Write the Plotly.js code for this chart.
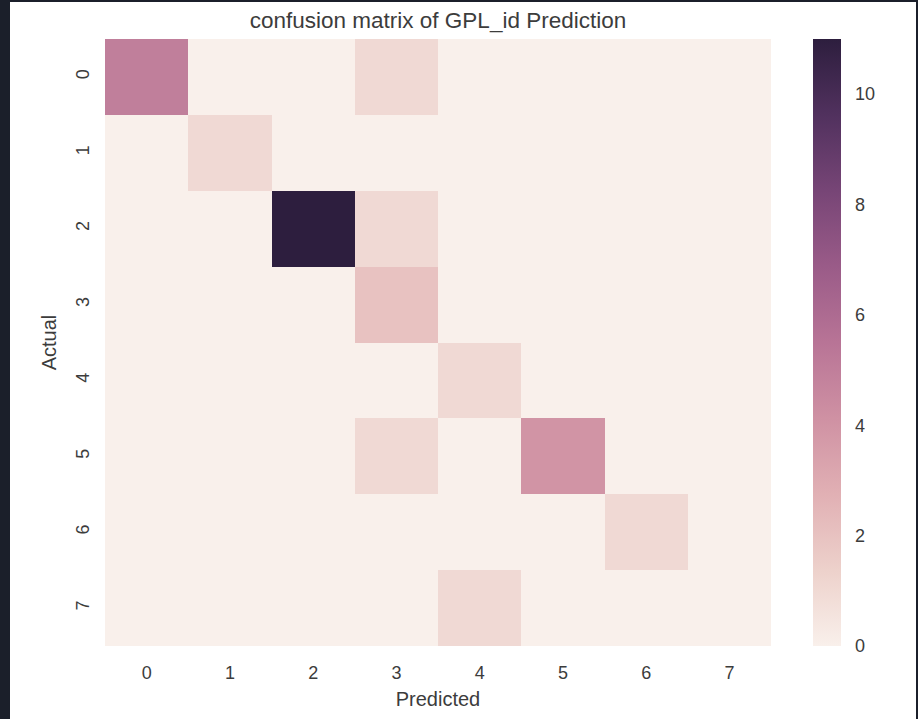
<!DOCTYPE html>
<html>
<head>
<meta charset="utf-8">
<script src="https://cdn.plot.ly/plotly-3.0.1.min.js"></script>
<style>
  html, body { margin: 0; padding: 0; background: #1b1f2a; width: 918px; height: 719px; overflow: hidden; }
  #chart { position: absolute; left: 10px; top: 2px; width: 906px; height: 717px; background: #ffffff; }
</style>
</head>
<body>
<div id="chart"></div>
<script>
// Predicted class labels (columns) and actual class labels (rows)
const predictedLabels = ['0', '1', '2', '3', '4', '5', '6', '7'];
const actualLabels = ['0', '1', '2', '3', '4', '5', '6', '7'];

// Confusion matrix counts, one array per actual row
const row0 = [5, 0, 0, 1, 0, 0, 0, 0];
const row1 = [0, 1, 0, 0, 0, 0, 0, 0];
const row2 = [0, 0, 11, 1, 0, 0, 0, 0];
const row3 = [0, 0, 0, 2, 0, 0, 0, 0];
const row4 = [0, 0, 0, 0, 1, 0, 0, 0];
const row5 = [0, 0, 0, 1, 0, 4, 0, 0];
const row6 = [0, 0, 0, 0, 0, 0, 1, 0];
const row7 = [0, 0, 0, 0, 1, 0, 0, 0];

const colorbarTicks = [0, 2, 4, 6, 8, 10];

// seaborn cubehelix_palette(light=.95, dark=.15) sampled
const cubehelix = [
  [0.000, '#f9f0eb'], [0.125, '#edd1cb'], [0.250, '#e1b0b4'],
  [0.375, '#cf91a3'], [0.500, '#b87496'], [0.625, '#9a5b88'],
  [0.750, '#774576'], [0.875, '#51315e'], [1.000, '#2d1e3e']
];

const z = [row0, row1, row2, row3, row4, row5, row6, row7];
const zmax = Math.max(...z.flat());

const textColor = '#3c3c3c';
const fontFam = '"Liberation Sans", Arial, sans-serif';

const trace = {
  type: 'heatmap',
  x: predictedLabels,
  y: actualLabels,
  z: z,
  zmin: 0,
  zmax: zmax,
  colorscale: cubehelix,
  xgap: 0, ygap: 0,
  hoverongaps: false,
  colorbar: {
    x: 1.0626, xanchor: 'left', xpad: 0,
    y: 0.5, yanchor: 'middle', ypad: 0,
    len: 1, lenmode: 'fraction',
    thickness: 28,
    outlinewidth: 0,
    tickvals: colorbarTicks,
    ticktext: colorbarTicks.map(String),
    ticks: 'outside', ticklen: 11, tickcolor: 'rgba(0,0,0,0)',
    tickfont: { family: fontFam, size: 18, color: textColor }
  }
};

const layout = {
  width: 906, height: 717,
  margin: { l: 95, r: 145, t: 37, b: 73, pad: 0 },
  paper_bgcolor: '#ffffff',
  plot_bgcolor: '#ffffff',
  font: { family: fontFam, color: textColor },
  title: {
    text: 'confusion matrix of GPL_id Prediction',
    font: { family: fontFam, size: 22.5, color: textColor },
    x: 0.5, xref: 'paper', xanchor: 'center',
    y: 1 - 18 / 717, yref: 'container', yanchor: 'middle'
  },
  xaxis: {
    type: 'category',
    showgrid: false, zeroline: false, showline: false,
    ticks: 'outside', ticklen: 10, tickcolor: 'rgba(0,0,0,0)',
    tickfont: { family: fontFam, size: 18, color: textColor },
    title: { text: 'Predicted', font: { family: fontFam, size: 20, color: textColor }, standoff: 10 },
    automargin: false
  },
  yaxis: {
    type: 'category',
    autorange: 'reversed',
    showgrid: false, zeroline: false, showline: false,
    ticks: 'outside', ticklen: 8, tickcolor: 'rgba(0,0,0,0)',
    tickangle: -90,
    tickfont: { family: fontFam, size: 18, color: textColor },
    title: { text: 'Actual', font: { family: fontFam, size: 20, color: textColor }, standoff: 10 },
    automargin: false
  }
};

Plotly.newPlot('chart', [trace], layout, { displayModeBar: false, staticPlot: true });
</script>
</body>
</html>
